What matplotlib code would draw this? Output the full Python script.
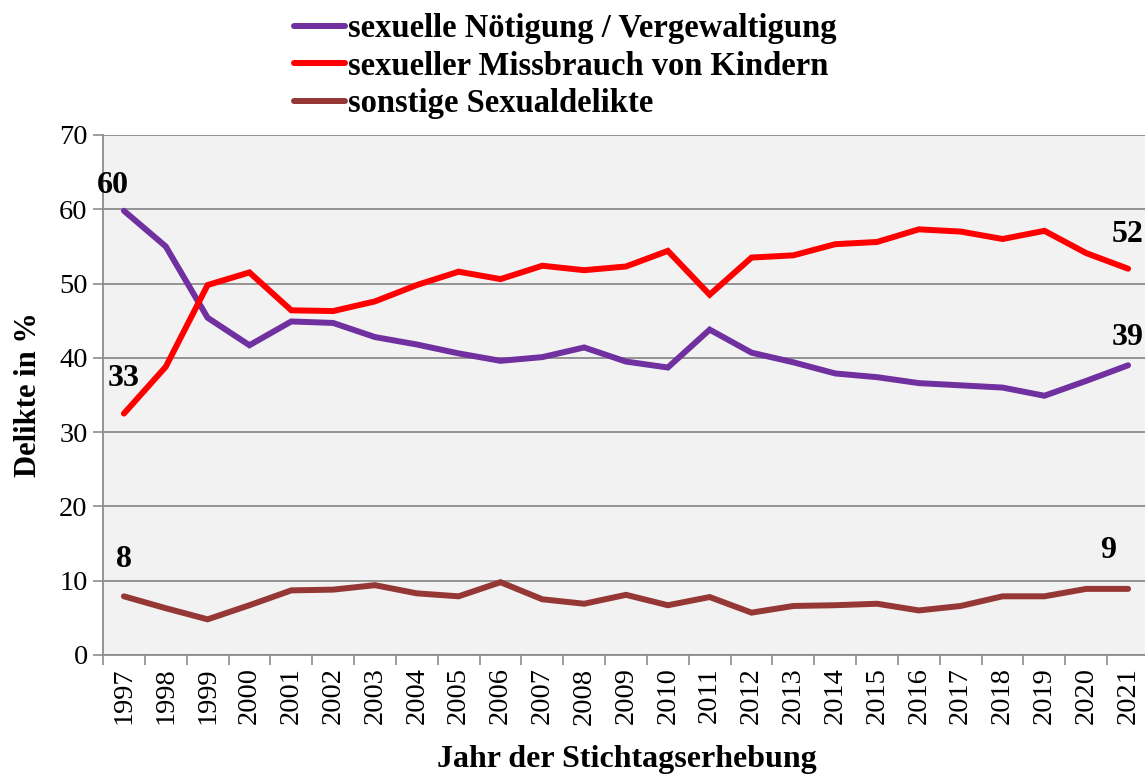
import numpy as np
import matplotlib
matplotlib.use("Agg")
import matplotlib.pyplot as plt

# ---------------------------------------------------------
# Data
# ---------------------------------------------------------
years = [str(y) for y in range(1997, 2022)]

noetigung = [59.8, 55.0, 45.4, 41.7, 44.9, 44.7, 42.8, 41.8, 40.6, 39.6,
             40.1, 41.4, 39.5, 38.7, 43.8, 40.7, 39.4, 37.9, 37.4, 36.6,
             36.3, 36.0, 34.9, 36.9, 39.0]
missbrauch = [32.5, 38.8, 49.8, 51.5, 46.4, 46.3, 47.6, 49.8, 51.6, 50.6,
              52.4, 51.8, 52.3, 54.4, 48.5, 53.5, 53.8, 55.3, 55.6, 57.3,
              57.0, 56.0, 57.1, 54.1, 52.0]
sonstige = [7.9, 6.3, 4.8, 6.7, 8.7, 8.8, 9.4, 8.3, 7.9, 9.8,
            7.5, 6.9, 8.1, 6.7, 7.8, 5.7, 6.6, 6.7, 6.9, 6.0,
            6.6, 7.9, 7.9, 8.9, 8.9]

series_names = ["sexuelle Nötigung / Vergewaltigung",
                "sexueller Missbrauch von Kindern",
                "sonstige Sexualdelikte"]
series_colors = ["#7030A0", "#FF0000", "#953735"]

# labels shown at first / last point: (series index, point index, text, dx, dy px)
end_labels = [
    (0, 0, "60", -11, 25),
    (1, 0, "33", 0, 35),
    (1, 24, "52", 0, 34),
    (0, 24, "39", 0, 28),
    (2, 0, "8", 0, 37),
    (2, 24, "9", -20, 38),
]

# ---------------------------------------------------------
# Plot
# ---------------------------------------------------------
plt.rcParams['font.family'] = ['Liberation Serif', 'DejaVu Serif']

W, H = 1145, 776
fig = plt.figure(figsize=(W / 100, H / 100), dpi=100)
ax = fig.add_axes([103 / W, (H - 655) / H, (1149 - 103) / W, (655 - 135) / H])
ax.set_facecolor("#F2F2F2")

x = np.arange(len(years))
data = [noetigung, missbrauch, sonstige]
for vals, name, col in zip(data, series_names, series_colors):
    ax.plot(x, vals, color=col, lw=4.3, label=name, solid_capstyle='round',
            solid_joinstyle='miter', zorder=3)

for si, pi, txt, dx, dy in end_labels:
    ax.annotate(txt, (x[pi], data[si][pi]), xytext=(dx, dy),
                textcoords='offset pixels', ha='center', va='center',
                fontsize=23, fontweight='bold', zorder=4)

ax.set_xlim(-0.5, len(years) - 0.5)
ax.set_ylim(0, 70)
ax.set_yticks(range(0, 71, 10))
ax.yaxis.grid(True, color="#8C8C8C", lw=1.3)
ax.set_axisbelow(True)

ax.set_xticks(x)
ax.set_xticklabels(years, rotation=90)
ax.set_xticks(np.arange(-0.5, len(years), 1), minor=True)
ax.tick_params(axis='x', which='major', length=0, pad=9, labelsize=20.5)
ax.tick_params(axis='x', which='minor', length=7, width=1.2, color="#8C8C8C")
ax.tick_params(axis='y', length=7, width=1.2, color="#8C8C8C", labelsize=20.5, pad=4)

for s in ['top', 'right']:
    ax.spines[s].set_visible(False)
for s in ['left', 'bottom']:
    ax.spines[s].set_color("#8C8C8C")
    ax.spines[s].set_linewidth(1.3)

ax.set_ylabel("Delikte in %", fontsize=22, fontweight='bold', labelpad=12)
ax.set_xlabel("Jahr der Stichtagserhebung", fontsize=23, fontweight='bold')
ax.xaxis.set_label_coords((627 - 103) / (1149 - 103), -(745 - 655) / (655 - 135))

fig.legend(loc='upper left', bbox_to_anchor=(281 / W, 1 - 0 / H), frameon=False,
           prop={'size': 23.5, 'weight': 'bold'}, handlelength=1.55, handletextpad=0.1,
           labelspacing=0.2, borderaxespad=0)

fig.savefig("out.png", dpi=100)
